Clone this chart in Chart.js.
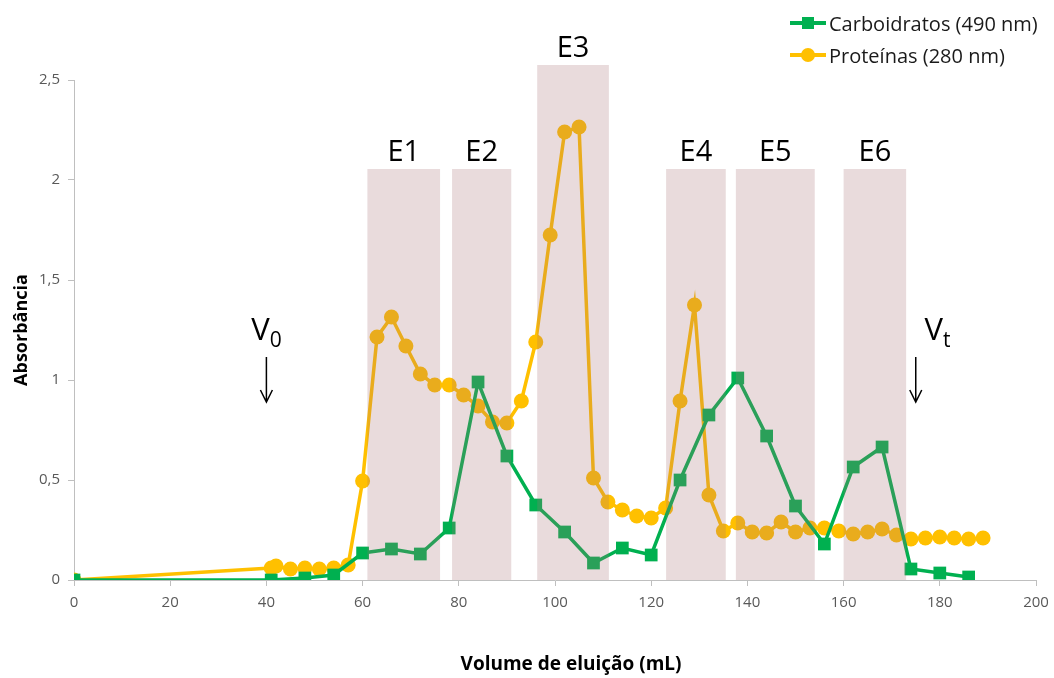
<!DOCTYPE html>
<html>
<head>
<meta charset="utf-8">
<script src="https://cdn.jsdelivr.net/npm/chart.js@4.4.1/dist/chart.umd.min.js"></script>
<style>
html,body{margin:0;padding:0;background:#fff;}
#wrap{position:relative;width:1054px;height:678px;}
#legend{position:absolute;left:790px;top:0;font-family:'Open Sans',sans-serif;font-size:20px;color:#1a1a1a;}
.item{position:absolute;left:0;display:flex;align-items:center;height:30px;white-space:nowrap;}
.mk{position:relative;width:36px;height:3.5px;margin-right:3px;}
.mk span{position:absolute;left:50%;top:50%;transform:translate(-50%,-50%);}
</style>
</head>
<body>
<div id="wrap">
  <canvas id="c" width="1054" height="678"></canvas>
  <div id="legend"></div>
</div>
<script>
// ---- Data ----
const carbVolume = [0, 41, 48, 54, 60, 66, 72, 78, 84, 90, 96, 102, 108, 114, 120, 126, 132, 138, 144, 150, 156, 162, 168, 174, 180, 186];
const carbAbs    = [0, 0, 0.01, 0.025, 0.135, 0.155, 0.13, 0.26, 0.99, 0.62, 0.375, 0.24, 0.085, 0.16, 0.125, 0.5, 0.825, 1.01, 0.72, 0.37, 0.18, 0.565, 0.665, 0.055, 0.035, 0.015];

const protVolume = [0, 41, 42, 45, 48, 51, 54, 57, 60, 63, 66, 69, 72, 75, 78, 81, 84, 87, 90, 93, 96, 99, 102, 105,
                    108, 111, 114, 117, 120, 123, 126, 129, 132, 135, 138, 141, 144, 147, 150, 153, 156, 159, 162, 165, 168,
                    171, 174, 177, 180, 183, 186, 189];
const protAbs    = [0, 0.06, 0.07, 0.055, 0.06, 0.055, 0.06, 0.075, 0.495, 1.215, 1.315, 1.17, 1.03, 0.975, 0.975, 0.925, 0.87, 0.79, 0.785, 0.895, 1.19, 1.725, 2.24, 2.265,
                    0.51, 0.39, 0.35, 0.32, 0.31, 0.36, 0.895, 1.375, 0.425, 0.245, 0.285, 0.24, 0.235, 0.29, 0.24, 0.26, 0.26, 0.245, 0.23, 0.24, 0.255,
                    0.225, 0.205, 0.21, 0.215, 0.21, 0.205, 0.21];

const seriesNames = ['Carboidratos (490 nm)', 'Proteínas (280 nm)'];

const fractionLabels = ['E1', 'E2', 'E3', 'E4', 'E5', 'E6'];
const fractionStart  = [61, 78.6, 96.3, 123.1, 137.6, 160];
const fractionEnd    = [76.1, 90.9, 111.2, 135.5, 154, 173];
const fractionTop    = [2.055, 2.055, 2.575, 2.055, 2.055, 2.055];

const markerSub     = ['0', 't'];
const markerArrowX  = [40, 175];
const markerLabelX  = [40, 179.5];

const xTicks = [0, 20, 40, 60, 80, 100, 120, 140, 160, 180, 200];
const yTicks = [0, 0.5, 1, 1.5, 2, 2.5];
const xTitle = 'Volume de eluição (mL)';
const yTitle = 'Absorbância';

const GREEN = '#00b050';
const ORANGE = '#ffc000';
const FONT = "'Open Sans', sans-serif";

// ---- Legend (HTML) ----
const legend = document.getElementById('legend');
[[seriesNames[0], GREEN, 'sq', 8], [seriesNames[1], ORANGE, 'ci', 40]].forEach(([name, col, shape, top]) => {
  const it = document.createElement('div');
  it.className = 'item';
  it.style.top = top + 'px';
  const mk = document.createElement('div');
  mk.className = 'mk';
  mk.style.background = col;
  const s = document.createElement('span');
  s.style.background = col;
  if (shape === 'sq') { s.style.width = '12px'; s.style.height = '12px'; }
  else { s.style.width = '14px'; s.style.height = '14px'; s.style.borderRadius = '50%'; }
  mk.appendChild(s);
  const t = document.createElement('span');
  t.textContent = name;
  it.appendChild(mk); it.appendChild(t);
  legend.appendChild(it);
});

// ---- Annotation plugin ----
const annot = {
  id: 'annot',
  afterDatasetsDraw(chart) {
    const {ctx, scales: {x, y}} = chart;
    ctx.save();
    const y0 = y.getPixelForValue(0);
    for (let i = 0; i < fractionLabels.length; i++) {
      const x0 = x.getPixelForValue(fractionStart[i]);
      const x1 = x.getPixelForValue(fractionEnd[i]);
      const yt = y.getPixelForValue(fractionTop[i]);
      ctx.fillStyle = 'rgba(167,111,115,0.25)';
      ctx.fillRect(x0, yt, x1 - x0, y0 - yt);
      ctx.fillStyle = '#000';
      ctx.font = '29px ' + FONT;
      ctx.textAlign = 'center';
      ctx.textBaseline = 'alphabetic';
      ctx.fillText(fractionLabels[i], (x0 + x1) / 2, yt - 8);
    }
    for (let i = 0; i < markerSub.length; i++) {
      const ax = x.getPixelForValue(markerArrowX[i]);
      const lx = x.getPixelForValue(markerLabelX[i]);
      const base = y.getPixelForValue(1.2);
      ctx.font = '31px ' + FONT;
      const wV = ctx.measureText('V').width;
      ctx.font = '21px ' + FONT;
      const wS = ctx.measureText(markerSub[i]).width;
      const start = lx - (wV + wS) / 2;
      ctx.fillStyle = '#000';
      ctx.textAlign = 'left';
      ctx.font = '31px ' + FONT;
      ctx.fillText('V', start, base);
      ctx.font = '21px ' + FONT;
      ctx.fillText(markerSub[i], start + wV, base + 7);
      const at = y.getPixelForValue(1.115);
      const ab = y.getPixelForValue(0.89);
      ctx.strokeStyle = '#000';
      ctx.lineWidth = 1.5;
      ctx.beginPath();
      ctx.moveTo(ax, at); ctx.lineTo(ax, ab);
      ctx.moveTo(ax - 6, ab - 12); ctx.lineTo(ax, ab); ctx.lineTo(ax + 6, ab - 12);
      ctx.stroke();
    }
    // x-axis title (offset to the right as in the original)
    ctx.fillStyle = '#000';
    ctx.font = 'bold 19px ' + FONT;
    ctx.textAlign = 'center';
    ctx.textBaseline = 'middle';
    ctx.fillText(xTitle, (chart.chartArea.left + chart.chartArea.right) / 2 + 16, 665);
    ctx.restore();
  }
};

const toXY = (xs, ys) => xs.map((v, i) => ({x: v, y: ys[i]}));

new Chart(document.getElementById('c'), {
  type: 'line',
  data: {
    datasets: [
      {
        label: seriesNames[1],
        data: toXY(protVolume, protAbs),
        borderColor: ORANGE, backgroundColor: ORANGE,
        borderWidth: 3.5, pointStyle: 'circle', pointRadius: 7.5, pointBorderWidth: 0,
        tension: 0, order: 2
      },
      {
        label: seriesNames[0],
        data: toXY(carbVolume, carbAbs),
        borderColor: GREEN, backgroundColor: GREEN,
        borderWidth: 3.5, pointStyle: 'rect', pointRadius: 9, pointBorderWidth: 0,
        tension: 0, order: 1
      }
    ]
  },
  options: {
    responsive: false,
    animation: false,
    events: [],
    layout: {padding: {top: 80, right: 18, left: 0, bottom: 0}},
    plugins: {legend: {display: false}, tooltip: {enabled: false}},
    scales: {
      x: {
        type: 'linear', min: 0, max: 200,
        afterBuildTicks: s => { s.ticks = xTicks.map(v => ({value: v})); },
        afterFit: s => { s.height = 98; s.paddingLeft = 0; s.paddingRight = 0; },
        grid: {drawOnChartArea: false, drawTicks: true, tickLength: 6, color: '#bfbfbf'},
        border: {color: '#bfbfbf', width: 1},
        ticks: {font: {family: FONT, size: 15}, color: '#595959', padding: 8, maxRotation: 0, autoSkip: false},
        title: {display: false}
      },
      y: {
        type: 'linear', min: 0, max: 2.5,
        afterBuildTicks: s => { s.ticks = yTicks.map(v => ({value: v})); },
        afterFit: s => { s.width = 74; s.paddingTop = 0; s.paddingBottom = 0; },
        grid: {drawOnChartArea: false, drawTicks: true, tickLength: 6, color: '#bfbfbf'},
        border: {color: '#bfbfbf', width: 1},
        ticks: {font: {family: FONT, size: 15}, color: '#595959', padding: 8,
                callback: v => String(v).replace('.', ',')},
        title: {display: true, text: yTitle, font: {family: FONT, size: 18, weight: 'bold'}, color: '#000', padding: {top: 11, bottom: 0}}
      }
    }
  },
  plugins: [annot]
});
</script>
</body>
</html>
